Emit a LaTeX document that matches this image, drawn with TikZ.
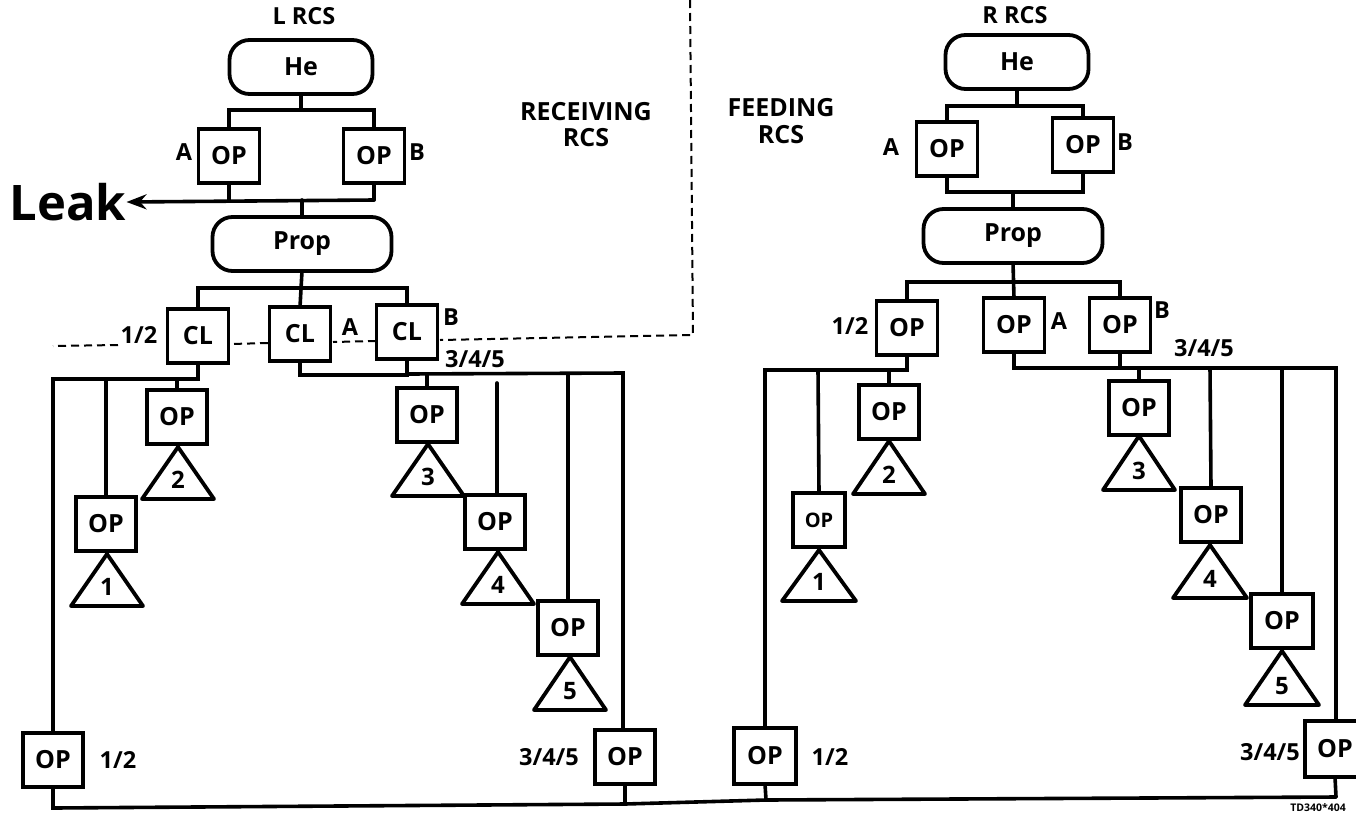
\documentclass[tikz,border=0pt]{standalone}
\usepackage{fontspec}
\usetikzlibrary{arrows.meta}
\setmainfont{Open Sans}
\begin{document}
\begin{tikzpicture}[x=1pt,y=-1pt,
  wire/.style={line width=3.6pt,line cap=round,line join=miter},
  dashline/.style={line width=2pt,dash pattern=on 8pt off 5pt},
  box/.style={draw,line width=3.8pt,fill=white,inner sep=0pt,outer sep=0pt,minimum width=60pt,minimum height=54pt,font=\bfseries\fontsize{25}{28}\selectfont},
  pill/.style={box,rounded corners=20pt,minimum width=143pt,minimum height=54pt},
  lab/.style={inner sep=0pt,font=\bfseries\fontsize{23.5}{27}\selectfont},
  head/.style={lab,align=center,font=\bfseries\fontsize{25}{28}\selectfont},
  trilab/.style={inner sep=0pt,font=\bfseries\fontsize{24}{26}\selectfont},
  triline/.style={line width=3.8pt,line join=round}]
\useasboundingbox (0,0) rectangle (1356,817);
\newcommand{\tri}[6]{%
  \draw[triline] (#2-#5,#4) -- (#2,#3) -- (#2+#5,#4) -- cycle;
  \node[trilab] (#1) at (#2,#4-19) {#6};}

% dashed boundary
\coordinate (d0) at (690,0);
\coordinate (d1) at (693,335);
\coordinate (d2) at (440,340);
\coordinate (d3) at (376,341);
\coordinate (d4) at (333,342);
\coordinate (d5) at (268,343);
\coordinate (d6) at (231,344);
\coordinate (d7) at (118,345);
\coordinate (d8) at (53,346);
\draw[dashline] (d0) -- (d1) -- (d2);
\draw[dashline] (d3) -- (d4);
\draw[dashline] (d5) -- (d6);
\draw[dashline] (d7) -- (d8);

%% LEFT
\node[lab] (ltitle) at (304,16) {L RCS};
\node[pill] (lhe) at (301,67) {He};
\node[box,minimum width=61pt] (lopa) at (229,156) {OP};
\node[box,minimum width=61pt] (lopb) at (374,156) {OP};
\node[pill,minimum width=179pt] (lprop) at (302,244) {Prop};
\node[box,minimum width=61pt] (lcl1) at (198,336) {CL};
\node[box,minimum width=61pt] (lcl2) at (300,334) {CL};
\node[box,minimum width=61pt] (lcl3) at (407,332) {CL};
\node[box] (lop2) at (177,417) {OP};
\node[box] (lop1) at (106,524) {OP};
\node[box] (lop3) at (427,415) {OP};
\node[box] (lop4) at (495,522) {OP};
\node[box] (lop5) at (568,628) {OP};
\node[box] (lopl) at (53,760) {OP};
\node[box] (lopr) at (625,757) {OP};
\coordinate (lleakend) at (374,200);
\node[inner sep=0pt,font=\bfseries\fontsize{49}{52}\selectfont] (leak) at (68,202) {Leak};

\draw[wire] (lhe.south) -- (301,110);
\draw[wire] (lopa.north) |- (374,110) -- (lopb.north);
\draw[wire] (lopa.south) -- (229,200);
\draw[wire] (lopb.south) -- (lleakend);
\draw[wire,-{Stealth[length=20pt,width=15pt]}] (lleakend) -- (leak.east);
\draw[wire] (lprop.north) -- (302,200);
\draw[wire] (lprop.south) -- (lcl2.north);
\draw[wire] (lcl1.north) |- (407,288) -- (lcl3.north);
\draw[wire] (lcl1.south) |- (53,379) -- (lopl.north);
\draw[wire] (lop2.north) -- (177,379);
\draw[wire] (lop1.north) -- (106,379);
\draw[wire] (lcl2.south) |- (407,375) -- (lcl3.south);
\draw[wire] (407,374) -- (623,373) -- (623,730);
\draw[wire] (lop3.north) -- (427,374);
\draw[wire] (lop5.north) -- (568,374);
\draw[wire] (497,383) -- (497,495);
\draw[wire] (lopl.south) -- (53,808) -- (625,804) -- (766,800) -- (1336,797);
\draw[wire] (lopr.south) -- (625,804);

\tri{lt2}{178}{447}{499}{36}{2}
\tri{lt1}{107}{554}{606}{36}{1}
\tri{lt3}{428}{444}{496}{36}{3}
\tri{lt4}{498}{552}{604}{36}{4}
\tri{lt5}{570}{657}{710}{36}{5}

\node[lab] (la) at (184,152) {A};
\node[lab] (lb) at (417,152) {B};
\node[lab] (l12) at (139,335) {1/2};
\node[lab] (lca) at (350,327) {A};
\node[lab] (lcb) at (451,317) {B};
\node[lab] (l345) at (475,359) {3/4/5};
\node[lab] (lb12) at (118,760) {1/2};
\node[lab] (lb345) at (549,757) {3/4/5};
\node[head] (recv) at (586,125) {RECEIVING\\[-2pt]RCS};
\node[head] (feed) at (781,121) {FEEDING\\[-1pt]RCS};

%% RIGHT
\node[lab] (rtitle) at (1015,15) {R RCS};
\node[pill] (rhe) at (1017,62) {He};
\node[box,minimum width=61pt] (ropa) at (947,149) {OP};
\node[box,minimum width=61pt] (ropb) at (1083,145) {OP};
\node[pill,minimum width=179pt] (rprop) at (1013,236) {Prop};
\node[box,minimum width=61pt] (rcl1) at (907,328) {OP};
\node[box,minimum width=61pt] (rcl2) at (1014,325) {OP};
\node[box,minimum width=61pt] (rcl3) at (1120,325) {OP};
\node[box] (rop2) at (889,412) {OP};
\node[box,minimum width=52pt,font=\bfseries\fontsize{20}{24}\selectfont] (rop1) at (819,520) {OP};
\node[box] (rop3) at (1139,408) {OP};
\node[box] (rop4) at (1211,515) {OP};
\node[box,minimum width=62pt] (rop5) at (1282,621) {OP};
\node[box,minimum width=62pt,minimum height=56pt] (ropl) at (765,756) {OP};
\node[box,minimum height=56pt] (ropr) at (1335,749) {OP};

\draw[wire] (rhe.south) -- (1017,106);
\draw[wire] (ropa.north) |- (1083,106) -- (ropb.north);
\draw[wire] (ropa.south) |- (1083,192) -- (ropb.south);
\draw[wire] (rprop.north) -- (1013,192);
\draw[wire] (rprop.south) -- (rcl2.north);
\draw[wire] (rcl1.north) |- (1120,282) -- (rcl3.north);
\draw[wire] (rcl1.south) |- (765,370) -- (ropl.north);
\draw[wire] (rop2.north) -- (889,370);
\draw[wire] (rop1.north) -- (818,370);
\draw[wire] (rcl2.south) |- (1120,368) -- (rcl3.south);
\draw[wire] (1120,368) -- (1336,368) -- (1336,721);
\draw[wire] (rop3.north) -- (1139,368);
\draw[wire] (rop4.north) -- (1210,368);
\draw[wire] (rop5.north) -- (1282,368);
\draw[wire] (ropl.south) -- (766,800);
\draw[wire] (ropr.south) -- (1336,797);

\tri{rt2}{889}{441}{494}{36}{2}
\tri{rt1}{819}{550}{601}{37}{1}
\tri{rt3}{1139}{436}{490}{36}{3}
\tri{rt4}{1210}{545}{598}{37}{4}
\tri{rt5}{1282}{651}{705}{37}{5}

\node[lab] (ra) at (891,147) {A};
\node[lab] (rb) at (1125,142) {B};
\node[lab] (r12) at (850,326) {1/2};
\node[lab] (rca) at (1059,321) {A};
\node[lab] (rcb) at (1162,310) {B};
\node[lab] (r345) at (1204,348) {3/4/5};
\node[lab] (rb12) at (830,757) {1/2};
\node[lab] (rb345) at (1270,752) {3/4/5};
\node[inner sep=0pt,font=\bfseries\fontsize{10.5}{12}\selectfont] (td) at (1318,808) {TD340*404};
\end{tikzpicture}
\end{document}
